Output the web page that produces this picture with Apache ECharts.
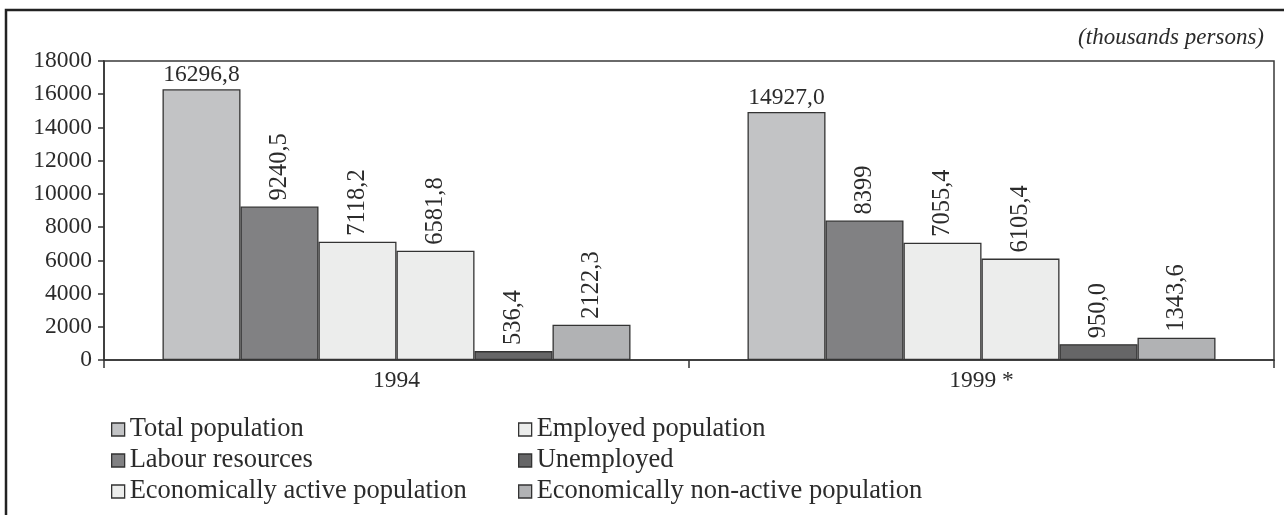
<!DOCTYPE html>
<html>
<head>
<meta charset="utf-8">
<title>Population and labour force</title>
<script src="https://cdn.jsdelivr.net/npm/echarts@6/dist/echarts.min.js"></script>
<style>
  html, body { margin: 0; padding: 0; background: #fff; }
  #chart { width: 1284px; height: 515px; }
</style>
</head>
<body>
<div id="chart"></div>
<script>
// Census years shown on the category axis
const categories = ['1994', '1999 *'];

// Values in thousands of persons, written as they are printed (decimal comma)
const totalPopulation = ['16296,8', '14927,0'];
const labourResources = ['9240,5', '8399'];
const activePopulation = ['7118,2', '7055,4'];
const employedPopulation = ['6581,8', '6105,4'];
const unemployed = ['536,4', '950,0'];
const nonActivePopulation = ['2122,3', '1343,6'];

// Value axis ticks
const yTicks = [0, 2000, 4000, 6000, 8000, 10000, 12000, 14000, 16000, 18000];

const unitNote = '(thousands persons)';

const FONT = '"Liberation Serif", "DejaVu Serif", serif';
const INK = '#2b2b2b';

const toNumber = s => parseFloat(s.replace(',', '.'));

const seriesDefs = [
  { name: 'Total population', data: totalPopulation, color: '#c2c3c5', rotate: false },
  { name: 'Labour resources', data: labourResources, color: '#818183', rotate: true },
  { name: 'Economically active population', data: activePopulation, color: '#ecedec', rotate: true },
  { name: 'Employed population', data: employedPopulation, color: '#ecedec', rotate: true },
  { name: 'Unemployed', data: unemployed, color: '#666667', rotate: true },
  { name: 'Economically non-active population', data: nonActivePopulation, color: '#b1b2b4', rotate: true }
];

const series = seriesDefs.map(def => ({
  name: def.name,
  type: 'bar',
  barGap: '0%',
  barCategoryGap: '20%',
  data: def.data.map(s => ({ value: toNumber(s), text: s })),
  itemStyle: { color: def.color, borderColor: '#333', borderWidth: 1.3 },
  label: def.rotate ? {
    show: true,
    position: 'top',
    rotate: 90,
    align: 'left',
    verticalAlign: 'middle',
    distance: 6,
    fontFamily: FONT,
    fontSize: 24.5,
    color: INK,
    formatter: p => p.data.text
  } : {
    show: true,
    position: 'top',
    distance: 2,
    fontFamily: FONT,
    fontSize: 23.5,
    color: INK,
    formatter: p => p.data.text
  },
  emphasis: { disabled: true }
}));

const legendCommon = {
  orient: 'vertical',
  top: 411,
  itemWidth: 13,
  itemHeight: 13,
  itemGap: 4,
  icon: 'rect',
  selectedMode: false,
  itemStyle: { borderColor: '#333', borderWidth: 1.3 },
  textStyle: { fontFamily: FONT, fontSize: 26.5, color: INK, lineHeight: 26 }
};

const chart = echarts.init(document.getElementById('chart'), null, { renderer: 'canvas' });

chart.setOption({
  animation: false,
  backgroundColor: '#fff',
  grid: {
    left: 104,
    right: 10,
    top: 61,
    bottom: 155,
    show: true,
    borderColor: '#3a3a3a',
    borderWidth: 1.5,
    backgroundColor: 'transparent'
  },
  graphic: [
    {
      type: 'rect',
      shape: { x: 6, y: 10, width: 1300, height: 530 },
      style: { fill: 'none', stroke: '#222', lineWidth: 2.5 },
      silent: true
    },
    {
      type: 'text',
      right: 20,
      top: 26,
      style: {
        text: unitNote,
        fontFamily: FONT,
        fontStyle: 'italic',
        fontSize: 23,
        fill: INK
      }
    }
  ],
  legend: [
    Object.assign({}, legendCommon, {
      left: 106,
      data: ['Total population', 'Labour resources', 'Economically active population']
    }),
    Object.assign({}, legendCommon, {
      left: 513,
      data: ['Employed population', 'Unemployed', 'Economically non-active population']
    })
  ],
  xAxis: {
    type: 'category',
    data: categories,
    axisLine: { lineStyle: { color: '#333', width: 1.5 } },
    axisTick: { show: true, length: 8, lineStyle: { color: '#333', width: 1.5 } },
    axisLabel: { fontFamily: FONT, fontSize: 23.5, color: INK, margin: 9 },
    splitLine: { show: false }
  },
  yAxis: {
    type: 'value',
    min: yTicks[0],
    max: yTicks[yTicks.length - 1],
    interval: yTicks[1] - yTicks[0],
    axisLine: { show: true, lineStyle: { color: '#333', width: 1.5 } },
    axisTick: { show: true, length: 6, lineStyle: { color: '#333', width: 1.5 } },
    axisLabel: {
      fontFamily: FONT,
      fontSize: 23.5,
      color: INK,
      margin: 12,
      formatter: v => String(v)
    },
    splitLine: { show: false }
  },
  series: series
});
</script>
</body>
</html>
